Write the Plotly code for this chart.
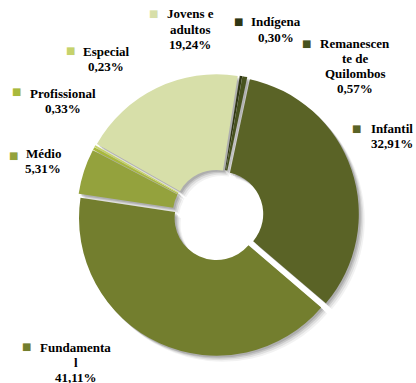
import plotly.graph_objects as go

# Enrolment share by education stage (%)
labels = ["Infantil", "Fundamental", "Médio", "Profissional", "Especial",
          "Jovens e adultos", "Indígena", "Remanescente de Quilombos"]
values = [32.91, 41.11, 5.31, 0.33, 0.23, 19.24, 0.30, 0.57]
# How each category name is broken over lines beside the ring
label_lines = [["Infantil"], ["Fundamenta", "l"], ["Médio"], ["Profissional"],
               ["Especial"], ["Jovens e", "adultos"], ["Indígena"],
               ["Remanescen", "te de", "Quilombos"]]
colors = ["#5a6326", "#737e2e", "#94a23d", "#a9b93c", "#c6d26c",
          "#d7dfa9", "#2f3614", "#47521e"]

W, H = 416, 383
CX, CY = 218, 215          # ring centre in pixels (from top-left)
HALF = 141                 # half of the pie domain in pixels
PULL = 0.025


def domain(dx=0.0, dy=0.0):
    cx, cy = CX + dx, CY + dy
    return dict(x=[(cx - HALF) / W, (cx + HALF) / W],
                y=[1 - (cy + HALF) / H, 1 - (cy - HALF) / H])


def ring(cols, dom):
    return go.Pie(labels=labels, values=values, sort=False, direction="clockwise",
                  rotation=12, hole=0.305, pull=[PULL] * len(values),
                  marker=dict(colors=cols, line=dict(width=0)),
                  textinfo="none", hoverinfo="skip", showlegend=False, domain=dom)


fig = go.Figure()
# soft drop shadow under the ring, built from a few offset grey copies
for off, alpha in [(6.0, 0.05), (4.5, 0.08), (3.0, 0.11), (1.8, 0.12)]:
    fig.add_trace(ring([f"rgba(0,0,0,{alpha})"] * len(values), domain(off, off)))
fig.add_trace(ring(colors, domain()))

# label placement: (marker x, marker y, text centre x, first line y) in pixels
placements = [(356.5, 128, 392, 128), (26.5, 346.5, 75.5, 347), (13, 155, 43, 153),
              (16, 92, 62.5, 93), (70, 50.5, 106, 51), (153.5, 13, 190, 14),
              (238.5, 21, 276, 22), (306.5, 43, 355, 43)]
LINE = 15.2
font = dict(family="Liberation Serif", size=13, color="#000000", weight="bold")

annotations = []
for name_lines, v, col, (mx, my, tx, ty) in zip(label_lines, values, colors, placements):
    annotations.append(dict(x=mx / W, y=1 - my / H, xref="paper", yref="paper",
                            text="■", showarrow=False, xanchor="center", yanchor="middle",
                            font=dict(family="DejaVu Sans", size=10, color=col)))
    pct = f"{v:.2f}".replace(".", ",") + "%"
    for i, line in enumerate(name_lines + [pct]):
        annotations.append(dict(x=tx / W, y=1 - (ty + i * LINE) / H, xref="paper",
                                yref="paper", text=line, showarrow=False,
                                xanchor="center", yanchor="middle", font=font))

fig.update_layout(width=W, height=H, margin=dict(l=0, r=0, t=0, b=0),
                  paper_bgcolor="white", plot_bgcolor="white",
                  annotations=annotations, showlegend=False)

fig.write_html("out.html")
